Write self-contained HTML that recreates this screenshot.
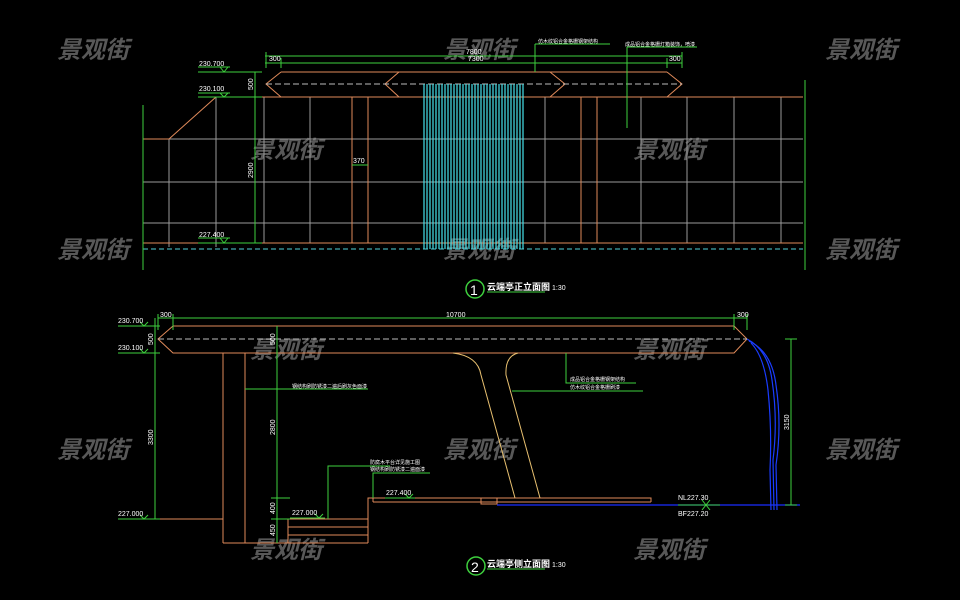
<!DOCTYPE html>
<html><head><meta charset="utf-8"><style>
html,body{margin:0;padding:0;background:#000;}
svg{display:block}
.wm{font-family:"Liberation Sans","Noto Sans CJK SC",sans-serif;font-size:24px;font-weight:bold;font-style:italic;fill:#585858}
.t{font-family:"Liberation Sans","Noto Sans CJK SC",sans-serif;fill:#fff}
</style></head><body>
<svg width="960" height="600" viewBox="0 0 960 600" xmlns="http://www.w3.org/2000/svg">
<rect width="960" height="600" fill="#000"/>
<g class="wm">
<text x="57" y="58">景观街</text><text x="443" y="58">景观街</text><text x="825" y="58">景观街</text>
<text x="250" y="158">景观街</text><text x="633" y="158">景观街</text>
<text x="57" y="258">景观街</text><text x="443" y="258">景观街</text><text x="825" y="258">景观街</text>
<text x="250" y="358">景观街</text><text x="633" y="358">景观街</text>
<text x="57" y="458">景观街</text><text x="443" y="458">景观街</text><text x="825" y="458">景观街</text>
<text x="250" y="558">景观街</text><text x="633" y="558">景观街</text>
</g>

<g stroke="#9a9a9a" stroke-width="1" fill="none">
<line x1="169" y1="139" x2="803" y2="139"/><line x1="143" y1="182" x2="803" y2="182"/><line x1="143" y1="223" x2="803" y2="223"/>
<line x1="169" y1="139" x2="169" y2="247"/><line x1="216" y1="97" x2="216" y2="247"/>
<line x1="264" y1="97" x2="264" y2="243"/><line x1="310" y1="97" x2="310" y2="243"/>
<line x1="545" y1="97" x2="545" y2="243"/><line x1="641" y1="97" x2="641" y2="243"/>
<line x1="687" y1="97" x2="687" y2="243"/><line x1="734" y1="97" x2="734" y2="243"/><line x1="781" y1="97" x2="781" y2="243"/>
</g>
<g stroke="#e08a5a" stroke-width="1" fill="none">
<line x1="281" y1="72" x2="667" y2="72"/>
<line x1="216" y1="97" x2="803" y2="97"/>
<polyline points="169,139 216,97"/>
<line x1="143" y1="139" x2="169" y2="139"/>
<line x1="143" y1="243" x2="803" y2="243"/>
<line x1="352" y1="97" x2="352" y2="243"/><line x1="368" y1="97" x2="368" y2="243"/>
<line x1="581" y1="97" x2="581" y2="243"/><line x1="597" y1="97" x2="597" y2="243"/>
<polyline points="281,72 266,84 281,97"/><polyline points="667,72 682,84 667,97"/>
<polyline points="399,72 385,84 399,97"/><polyline points="550,72 565,84 550,97"/>
</g>
<line x1="266" y1="84" x2="682" y2="84" stroke="#bbb" stroke-dasharray="6,3" stroke-width="1"/>
<g stroke="#45e3ec" stroke-width="1.2">
<line x1="424" y1="84" x2="424" y2="249"/><line x1="427" y1="84" x2="427" y2="249"/><line x1="430" y1="84" x2="430" y2="249"/><line x1="433" y1="84" x2="433" y2="249"/><line x1="436" y1="84" x2="436" y2="249"/><line x1="439" y1="84" x2="439" y2="249"/><line x1="442" y1="84" x2="442" y2="249"/><line x1="445" y1="84" x2="445" y2="249"/><line x1="448" y1="84" x2="448" y2="249"/><line x1="451" y1="84" x2="451" y2="249"/><line x1="454" y1="84" x2="454" y2="249"/><line x1="457" y1="84" x2="457" y2="249"/><line x1="460" y1="84" x2="460" y2="249"/><line x1="463" y1="84" x2="463" y2="249"/><line x1="466" y1="84" x2="466" y2="249"/><line x1="469" y1="84" x2="469" y2="249"/><line x1="472" y1="84" x2="472" y2="249"/><line x1="475" y1="84" x2="475" y2="249"/><line x1="478" y1="84" x2="478" y2="249"/><line x1="481" y1="84" x2="481" y2="249"/><line x1="484" y1="84" x2="484" y2="249"/><line x1="487" y1="84" x2="487" y2="249"/><line x1="490" y1="84" x2="490" y2="249"/><line x1="493" y1="84" x2="493" y2="249"/><line x1="496" y1="84" x2="496" y2="249"/><line x1="499" y1="84" x2="499" y2="249"/><line x1="502" y1="84" x2="502" y2="249"/><line x1="505" y1="84" x2="505" y2="249"/><line x1="508" y1="84" x2="508" y2="249"/><line x1="511" y1="84" x2="511" y2="249"/><line x1="514" y1="84" x2="514" y2="249"/><line x1="517" y1="84" x2="517" y2="249"/><line x1="520" y1="84" x2="520" y2="249"/><line x1="523" y1="84" x2="523" y2="249"/>
</g>
<line x1="143" y1="249" x2="803" y2="249" stroke="#4fd0d8" stroke-dasharray="5,3" stroke-width="1"/>
<g stroke="#3ecf3e" stroke-width="1" fill="none">
<line x1="143" y1="105" x2="143" y2="270"/><line x1="805" y1="80" x2="805" y2="270"/>
<line x1="265" y1="56" x2="682" y2="56"/><line x1="265" y1="63" x2="682" y2="63"/>
<line x1="266" y1="52" x2="266" y2="68"/><line x1="281" y1="58" x2="281" y2="68"/><line x1="667" y1="58" x2="667" y2="68"/><line x1="682" y1="52" x2="682" y2="68"/>
<line x1="255" y1="72" x2="255" y2="243"/>
<line x1="198" y1="72" x2="262" y2="72"/><line x1="198" y1="97" x2="262" y2="97"/><line x1="198" y1="243" x2="262" y2="243"/>
<line x1="198" y1="67" x2="230" y2="67"/><line x1="198" y1="93" x2="230" y2="93"/><line x1="198" y1="238" x2="230" y2="238"/>
<polyline points="220,67 224,72 228,67"/><polyline points="220,93 224,97 228,93"/><polyline points="220,238 224,243 228,238"/>
<line x1="352" y1="165" x2="368" y2="165"/>
<polyline points="535,44 535,72"/><line x1="535" y1="44" x2="610" y2="44"/>
<polyline points="627,128 627,47 697,47"/>
</g>
<g class="t" font-size="7">
<text x="466" y="54">7800</text><text x="468" y="61">7300</text>
<text x="269" y="61">300</text><text x="669" y="61">300</text>
<text x="199" y="66">230.700</text><text x="199" y="91">230.100</text><text x="199" y="237">227.400</text>
<text x="353" y="163">370</text>
<text x="0" y="0" transform="translate(253,90) rotate(-90)">500</text>
<text x="0" y="0" transform="translate(253,178) rotate(-90)">2900</text>
<text x="538" y="43" font-size="5">仿木纹铝合金格栅钢架结构</text>
<text x="625" y="46" font-size="5">成品铝合金格栅灯箱装饰，喷漆</text>
</g>
<circle cx="475" cy="289" r="9" stroke="#3ecf3e" stroke-width="1.5" fill="none"/>
<text x="470" y="295" class="t" font-size="14">1</text>
<line x1="487" y1="292" x2="545" y2="292" stroke="#3ecf3e"/>
<text x="487" y="290" class="t" font-size="9" font-weight="bold">云端亭正立面图</text>
<text x="552" y="290" class="t" font-size="7">1:30</text>

<g stroke="#e08a5a" stroke-width="1" fill="none">
<polygon points="173,326 734,326 747,339 734,353 173,353 158,339"/>
<line x1="223" y1="353" x2="223" y2="543"/><line x1="245" y1="353" x2="245" y2="543"/>
<line x1="223" y1="543" x2="368" y2="543"/>
<line x1="143" y1="519" x2="223" y2="519"/>
<line x1="288" y1="519" x2="368" y2="519"/><line x1="288" y1="527" x2="368" y2="527"/><line x1="288" y1="535" x2="368" y2="535"/>
<line x1="288" y1="519" x2="288" y2="543"/>
<polyline points="368,543 368,498 651,498 651,502"/>
<line x1="373" y1="502" x2="651" y2="502"/><line x1="373" y1="498" x2="373" y2="502"/>
<rect x="481" y="498" width="16" height="6"/>
</g>
<g stroke="#e8c070" stroke-width="1" fill="none">
<path d="M453,353 Q478,356 481,375 L515,498"/>
<path d="M518,353 Q505,356 506,375 L540,498"/>
</g>
<line x1="158" y1="339" x2="747" y2="339" stroke="#bbb" stroke-dasharray="6,3"/>
<line x1="497" y1="505" x2="800" y2="505" stroke="#1a2cff" stroke-width="1.2"/>
<g stroke="#1a3cff" stroke-width="1.2" fill="none">
<path d="M747,339 Q768,350 772,380 Q778,420 773,460 L774,510"/>
<path d="M749,341 Q772,352 776,385 Q782,425 776,465 L777,510"/>
<path d="M751,343 Q764,356 768,390 Q772,430 770,470 L771,510"/>
</g>
<g stroke="#3ecf3e" stroke-width="1" fill="none">
<line x1="155" y1="318" x2="155" y2="519"/><line x1="277" y1="326" x2="277" y2="543"/>
<line x1="158" y1="318" x2="747" y2="318"/>
<line x1="158" y1="314" x2="158" y2="330"/><line x1="173" y1="314" x2="173" y2="330"/><line x1="734" y1="314" x2="734" y2="330"/><line x1="747" y1="314" x2="747" y2="330"/>
<line x1="118" y1="326" x2="160" y2="326"/><line x1="118" y1="353" x2="160" y2="353"/><line x1="118" y1="519" x2="160" y2="519"/>
<polyline points="140,322 144,326 148,322"/><polyline points="140,349 144,353 148,349"/><polyline points="140,515 144,519 148,515"/>
<line x1="271" y1="498" x2="290" y2="498"/><line x1="271" y1="519" x2="290" y2="519"/>
<line x1="791" y1="339" x2="791" y2="505"/><line x1="785" y1="339" x2="797" y2="339"/><line x1="785" y1="505" x2="797" y2="505"/>
<line x1="245" y1="389" x2="368" y2="389"/>
<polyline points="328,519 328,466 390,466"/><polyline points="373,498 373,473 430,473"/>
<line x1="385" y1="498" x2="415" y2="498"/><polyline points="405,494 409,498 413,494"/>
<line x1="290" y1="518" x2="325" y2="518"/><polyline points="315,514 319,518 323,514"/>
<polyline points="566,353 566,383 636,383"/><polyline points="512,391 643,391"/>
<line x1="678" y1="505" x2="720" y2="505"/><polyline points="702,500 706,505 710,500"/><polyline points="702,510 706,505 710,510"/>
</g>
<g class="t" font-size="7">
<text x="118" y="323">230.700</text><text x="118" y="350">230.100</text><text x="118" y="516">227.000</text>
<text x="160" y="317">300</text><text x="446" y="317">10700</text><text x="737" y="317">300</text>
<text x="386" y="495">227.400</text><text x="292" y="515">227.000</text>
<text x="678" y="500">NL227.30</text><text x="678" y="516">BF227.20</text>
<text transform="translate(153,345) rotate(-90)">500</text>
<text transform="translate(153,445) rotate(-90)">3300</text>
<text transform="translate(275,345) rotate(-90)">500</text>
<text transform="translate(275,435) rotate(-90)">2800</text>
<text transform="translate(275,514) rotate(-90)">400</text>
<text transform="translate(275,536) rotate(-90)">450</text>
<text transform="translate(789,430) rotate(-90)">3150</text>
<g font-size="5">
<text x="292" y="388">钢结构刷防锈漆二遍后刷灰色面漆</text>
<text x="370" y="464">防腐木平台详见施工图</text>
<text x="370" y="471">钢结构刷防锈漆二遍面漆</text>
<text x="570" y="381">成品铝合金格栅钢架结构</text>
<text x="570" y="389">仿木纹铝合金格栅刷漆</text>
</g>
</g>
<circle cx="476" cy="566" r="9" stroke="#3ecf3e" stroke-width="1.5" fill="none"/>
<text x="471" y="572" class="t" font-size="14">2</text>
<line x1="487" y1="569" x2="545" y2="569" stroke="#3ecf3e"/>
<text x="487" y="567" class="t" font-size="9" font-weight="bold">云端亭侧立面图</text>
<text x="552" y="567" class="t" font-size="7">1:30</text>
</svg>
</body></html>
